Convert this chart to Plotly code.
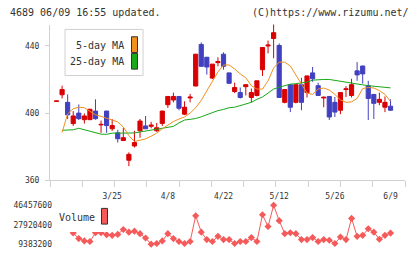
import plotly.graph_objects as go
import numpy as np

W, H = 420, 259

# ---------------- data ----------------
day_index = list(range(61))
tick_pos = [10, 20, 30, 40, 50, 60]
tick_labels = ["3/25", "4/8", "4/22", "5/12", "5/26", "6/9"]

open_ = [407.0, 410.9, 406.4, 393.8, 400.0, 396.1, 396.1, 401.2, 393.0, 401.2,
         390.7, 388.3, 383.7, 372.0, 380.5, 389.5, 392.4, 392.2, 389.5, 393.9,
         405.0, 407.8, 409.9, 399.4, 409.0, 416.1, 440.8, 433.2, 420.8, 430.0,
         435.0, 423.9, 412.8, 412.2, 415.7, 409.3, 410.5, 425.8, 439.9, 444.3,
         440.2, 406.4, 416.9, 406.4, 416.9, 412.2, 423.9, 416.3, 409.0, 409.9,
         406.4, 401.7, 414.0, 410.5, 425.1, 428.0, 416.3, 411.1, 406.4, 403.5,
         404.1]
high = [407.0, 416.3, 411.1, 401.2, 405.2, 399.8, 402.5, 408.2, 395.6, 401.4,
        396.5, 390.1, 391.3, 376.7, 389.5, 396.5, 398.3, 394.8, 394.2, 401.5,
        410.0, 412.2, 410.0, 407.0, 411.4, 435.2, 442.0, 433.4, 429.2, 433.2,
        436.1, 424.0, 418.1, 415.2, 417.0, 414.6, 419.3, 439.1, 443.1, 453.0,
        441.4, 414.1, 417.0, 417.0, 421.0, 422.2, 427.4, 418.1, 409.9, 410.0,
        409.6, 412.3, 416.0, 420.4, 430.3, 428.1, 419.2, 411.2, 412.2, 409.9,
        408.2]
low = [407.0, 408.7, 396.5, 392.4, 395.9, 393.8, 396.0, 396.1, 388.3, 388.3,
       389.5, 382.5, 383.5, 368.5, 379.6, 385.4, 390.5, 391.0, 388.9, 392.4,
       403.1, 406.4, 401.7, 398.8, 406.4, 416.0, 427.6, 422.9, 420.2, 427.8,
       425.8, 417.6, 411.9, 408.7, 410.5, 406.4, 409.9, 422.1, 435.5, 432.6,
       409.2, 405.8, 400.6, 405.8, 401.7, 409.3, 418.6, 410.4, 403.5, 395.9,
       397.7, 399.4, 409.6, 409.3, 419.2, 417.5, 395.9, 396.5, 404.7, 400.6,
       401.7]
close = [407.2, 414.0, 399.0, 398.3, 396.7, 398.3, 402.3, 396.7, 393.3, 392.6,
         392.6, 384.8, 385.4, 375.5, 382.5, 395.3, 390.7, 392.8, 391.3, 401.2,
         409.9, 409.9, 402.9, 403.5, 409.5, 435.0, 427.8, 427.4, 429.1, 430.6,
         427.8, 417.7, 415.2, 409.3, 416.9, 412.2, 419.2, 439.0, 440.4, 447.8,
         409.3, 414.0, 403.5, 416.9, 406.4, 422.1, 420.4, 410.5, 409.4, 397.7,
         400.6, 412.2, 414.4, 416.9, 422.7, 423.3, 408.7, 405.8, 408.2, 406.4,
         401.7]
ma5 = [None, 388.5, 399.6, 402.6, 403.5, 403.2, 401.2, 399.0, 398.1, 397.1,
       396.2, 394.8, 391.8, 386.6, 383.1, 383.7, 384.7, 386.3, 388.1, 390.7,
       393.0, 395.0, 396.5, 397.7, 400.0, 403.2, 407.6, 413.4, 418.6, 424.5,
       428.6, 428.6, 426.2, 423.3, 421.0, 416.3, 414.3, 414.3, 419.2, 426.8,
       430.3, 430.3, 428.0, 422.7, 417.8, 411.9, 411.1, 414.3, 414.9, 413.7,
       411.1, 407.9, 406.4, 406.7, 408.7, 414.6, 415.2, 414.9, 413.4, 411.1,
       407.0]
ma25 = [None, 389.8, 389.9, 390.1, 391.0, 390.1, 389.5, 388.6, 387.5, 387.4,
        388.1, 388.1, 388.1, 388.1, 388.2, 388.8, 389.3, 390.1, 390.5, 391.0,
        391.5, 392.1, 394.2, 395.9, 396.3, 396.8, 397.8, 399.0, 400.6, 401.5,
        402.2, 403.2, 403.5, 404.4, 405.5, 406.4, 408.2, 409.6, 411.9, 414.3,
        415.4, 416.3, 417.2, 417.5, 417.8, 418.4, 419.6, 420.0, 420.0, 420.0,
        419.4, 418.8, 418.2, 417.7, 417.2, 416.8, 416.3, 416.0, 415.6, 415.3,
        415.0]
volume = [27500000, 26800000, 29200000, 20122000, 14706000, 12465000, 11905000,
          20309000, 20309000, 18442000, 17788000, 18722000, 23391000, 20870000,
          21804000, 19376000, 15267000, 9383200, 10037000, 12465000, 19376000,
          14706000, 11905000, 10037000, 11905000, 36465000, 20870000, 13772000,
          11905000, 16854000, 13772000, 13772000, 10037000, 11905000, 11905000,
          15640000, 11905000, 37399000, 26193000, 46457600, 31796000, 19376000,
          20309000, 19376000, 13772000, 13772000, 15640000, 11905000, 13772000,
          13119000, 10037000, 16200000, 13772000, 33944000, 16854000, 17788000,
          24045000, 20870000, 14053000, 17788000, 19936000]
vol_ticks = [9383200, 27920400, 46457600]
vol_tick_text = ["9383200", "27920400", "46457600"]
price_ticks = [360, 400, 440]

# ---------------- styles ----------------
RED = "#d80000"
BLUE = "#4040c0"
ORANGE = "#f0901e"
GREEN = "#18a818"
VOLC = "#f55a5a"
AXC = "#d0d0d0"
TXT = "#333333"
MONO = "DejaVu Sans Mono"


def px_x(p):
    return p / W


def px_y(p):
    return 1 - p / H


x_range = [-1.17, 62.6]

fig = go.Figure()
fig.add_trace(go.Scatter(x=day_index, y=ma25, mode="lines",
                         line=dict(color=GREEN, width=1), xaxis="x", yaxis="y",
                         hoverinfo="skip"))
fig.add_trace(go.Scatter(x=day_index, y=ma5, mode="lines",
                         line=dict(color=ORANGE, width=1), xaxis="x", yaxis="y",
                         hoverinfo="skip"))
fig.add_trace(go.Candlestick(
    x=day_index, open=open_, high=high, low=low, close=close,
    increasing=dict(line=dict(color=RED, width=1), fillcolor=RED),
    decreasing=dict(line=dict(color=BLUE, width=1), fillcolor=BLUE),
    whiskerwidth=0, xaxis="x", yaxis="y"))
fig.add_trace(go.Scatter(x=day_index, y=volume, mode="lines+markers",
                         line=dict(color=VOLC, width=1),
                         marker=dict(symbol="diamond", size=5.5, color=VOLC),
                         xaxis="x2", yaxis="y2"))

# tick marks of the bottom axis: evenly spaced over the plot width
grid_ticks = list(np.linspace(x_range[0], x_range[1], 12))

fig.update_layout(
    width=W, height=H,
    margin=dict(l=0, r=0, t=0, b=0),
    paper_bgcolor="white", plot_bgcolor="white",
    showlegend=False,
    boxgap=0.25, boxgroupgap=0,
    xaxis=dict(domain=[px_x(50), px_x(405)], range=x_range, anchor="y",
               tickmode="array", tickvals=tick_pos, ticktext=tick_labels,
               ticks="", showgrid=False, zeroline=False,
               showline=True, linecolor=AXC, linewidth=1,
               tickfont=dict(family=MONO, size=8, color=TXT),
               ticklabelstandoff=8,
               rangeslider=dict(visible=False)),
    xaxis3=dict(overlaying="x", range=x_range, anchor="y",
                tickmode="array", tickvals=grid_ticks, showticklabels=False,
                ticks="outside", ticklen=6, tickcolor=AXC, tickwidth=1,
                showgrid=False, zeroline=False, showline=False),
    yaxis=dict(domain=[px_y(184), px_y(25)], range=[360, 452.64],
               tickmode="array", tickvals=price_ticks,
               ticks="outside", ticklen=4, tickcolor=AXC,
               showgrid=False, zeroline=False,
               showline=True, linecolor=AXC, linewidth=1,
               tickfont=dict(family=MONO, size=8, color=TXT),
               ticklabelstandoff=4),
    xaxis2=dict(domain=[px_x(50), px_x(405)], range=x_range, anchor="y2",
                showticklabels=False, ticks="", showgrid=False,
                zeroline=False, showline=False),
    yaxis2=dict(domain=[px_y(253), px_y(205)], range=[5647744, 50473216],
                tickmode="array", tickvals=vol_ticks, ticktext=vol_tick_text,
                ticks="", showgrid=False, zeroline=False, showline=False,
                tickfont=dict(family=MONO, size=8, color=TXT),
                ticklabelstandoff=-3),
)
# dummy trace to show the overlay tick axis
fig.add_trace(go.Scatter(x=[None], y=[None], xaxis="x3", yaxis="y",
                         hoverinfo="skip"))

shapes = []
# main legend box
shapes.append(dict(type="rect", xref="paper", yref="paper",
                   x0=px_x(65), x1=px_x(143), y0=px_y(77), y1=px_y(30),
                   fillcolor="white", line=dict(color=AXC, width=1), layer="above"))
shapes.append(dict(type="rect", xref="paper", yref="paper",
                   x0=px_x(131.5), x1=px_x(137.5), y0=px_y(53.5), y1=px_y(37.5),
                   fillcolor=ORANGE, line=dict(color="#333333", width=1), layer="above"))
shapes.append(dict(type="rect", xref="paper", yref="paper",
                   x0=px_x(131.5), x1=px_x(137.5), y0=px_y(70.5), y1=px_y(54.5),
                   fillcolor=GREEN, line=dict(color="#333333", width=1), layer="above"))
# volume legend box
shapes.append(dict(type="rect", xref="paper", yref="paper",
                   x0=px_x(52), x1=px_x(110), y0=px_y(236.5), y1=px_y(205),
                   fillcolor="white", line=dict(width=0), layer="above"))
shapes.append(dict(type="rect", xref="paper", yref="paper",
                   x0=px_x(101.5), x1=px_x(107.5), y0=px_y(228.5), y1=px_y(212.5),
                   fillcolor=VOLC, line=dict(color="#333333", width=1), layer="above"))
fig.update_layout(shapes=shapes)

ann = []
ann.append(dict(text="4689 06/09 16:55 updated.", x=px_x(8), y=px_y(13),
                xref="paper", yref="paper", xanchor="left", yanchor="middle",
                showarrow=False, font=dict(family=MONO, size=10, color=TXT)))
ann.append(dict(text="(C)https://www.rizumu.net/", x=px_x(411), y=px_y(13),
                xref="paper", yref="paper", xanchor="right", yanchor="middle",
                showarrow=False, font=dict(family=MONO, size=10, color=TXT)))
ann.append(dict(text="5-day MA", x=px_x(126), y=px_y(46),
                xref="paper", yref="paper", xanchor="right", yanchor="middle",
                showarrow=False, font=dict(family=MONO, size=10, color=TXT)))
ann.append(dict(text="25-day MA", x=px_x(126), y=px_y(63),
                xref="paper", yref="paper", xanchor="right", yanchor="middle",
                showarrow=False, font=dict(family=MONO, size=10, color=TXT)))
ann.append(dict(text="Volume", x=px_x(57), y=px_y(222), 
                xref="paper", yref="paper", xanchor="left", yanchor="middle",
                showarrow=False, font=dict(family=MONO, size=10, color=TXT)))
fig.update_layout(annotations=ann)

fig.write_html("out.html")
